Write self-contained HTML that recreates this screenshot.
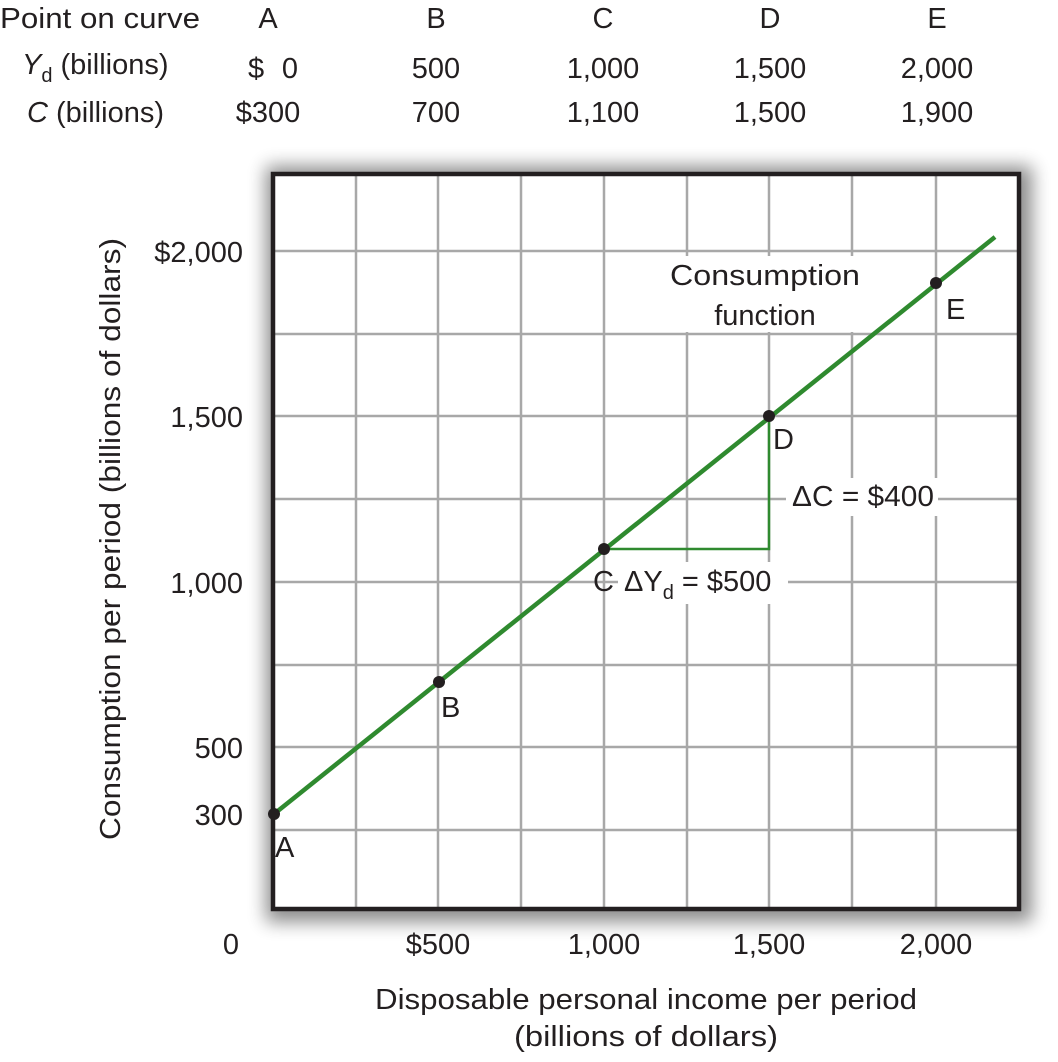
<!DOCTYPE html>
<html><head><meta charset="utf-8"><style>
html,body{margin:0;padding:0;background:#fff;}
svg text{font-family:"Liberation Sans",sans-serif;fill:#231f20;}
</style></head><body>
<svg width="1058" height="1057" viewBox="0 0 1058 1057" xmlns="http://www.w3.org/2000/svg">
<defs>
<filter id="sh" x="-10%" y="-10%" width="125%" height="125%"><feGaussianBlur stdDeviation="9"/></filter>
</defs>
<g font-size="29">
<text x="0" y="28" textLength="200" lengthAdjust="spacingAndGlyphs">Point on curve</text>
<text x="268" y="28" text-anchor="middle">A</text>
<text x="436" y="28" text-anchor="middle">B</text>
<text x="603" y="28" text-anchor="middle">C</text>
<text x="770" y="28" text-anchor="middle">D</text>
<text x="937" y="28" text-anchor="middle">E</text>
<text x="22" y="74"><tspan font-style="italic">Y</tspan><tspan font-size="20" dy="8">d</tspan><tspan dy="-8"> (billions)</tspan></text>
<text x="248" y="78">$</text><text x="298" y="78" text-anchor="end">0</text>
<text x="436" y="78" text-anchor="middle">500</text>
<text x="603" y="78" text-anchor="middle">1,000</text>
<text x="770" y="78" text-anchor="middle">1,500</text>
<text x="937" y="78" text-anchor="middle">2,000</text>
<text x="27" y="122"><tspan font-style="italic">C</tspan> (billions)</text>
<text x="268" y="122" text-anchor="middle">$300</text>
<text x="436" y="122" text-anchor="middle">700</text>
<text x="603" y="122" text-anchor="middle">1,100</text>
<text x="770" y="122" text-anchor="middle">1,500</text>
<text x="937" y="122" text-anchor="middle">1,900</text>
</g>
<rect x="266" y="166" width="766" height="756" fill="#000" opacity="0.45" filter="url(#sh)"/>
<rect x="273" y="174" width="746" height="735" fill="#fff"/>
<g stroke="#a8a8a8" stroke-width="2.5">
<line x1="356" y1="174" x2="356" y2="909"/><line x1="438" y1="174" x2="438" y2="909"/>
<line x1="521" y1="174" x2="521" y2="909"/><line x1="604" y1="174" x2="604" y2="909"/>
<line x1="687" y1="174" x2="687" y2="909"/><line x1="769" y1="174" x2="769" y2="909"/>
<line x1="852" y1="174" x2="852" y2="909"/><line x1="936" y1="174" x2="936" y2="909"/>
<line x1="273" y1="251" x2="1019" y2="251"/><line x1="273" y1="334" x2="1019" y2="334"/>
<line x1="273" y1="416" x2="1019" y2="416"/><line x1="273" y1="499" x2="1019" y2="499"/>
<line x1="273" y1="582" x2="1019" y2="582"/><line x1="273" y1="665" x2="1019" y2="665"/>
<line x1="273" y1="747" x2="1019" y2="747"/><line x1="273" y1="830" x2="1019" y2="830"/>
</g>
<rect x="273" y="174" width="746" height="735" fill="none" stroke="#231f20" stroke-width="4.5"/>
<polyline points="604,549 769,549 769,416" fill="none" stroke="#2f8a2f" stroke-width="2.5"/>
<line x1="274" y1="814" x2="995" y2="237" stroke="#2f8a2f" stroke-width="4.5"/>
<g fill="#231f20">
<circle cx="274" cy="814" r="6"/><circle cx="439" cy="682" r="6"/><circle cx="604" cy="549" r="6"/>
<circle cx="769" cy="416" r="6"/><circle cx="936" cy="283" r="6"/>
</g>
<rect x="662" y="256" width="204" height="76" fill="#fff"/>
<rect x="786" y="478" width="152" height="38" fill="#fff"/>
<rect x="618" y="562" width="170" height="42" fill="#fff"/>
<g font-size="29">
<text x="765" y="285" text-anchor="middle" textLength="190" lengthAdjust="spacingAndGlyphs">Consumption</text>
<text x="765" y="325" text-anchor="middle">function</text>
<text x="792" y="506" textLength="142" lengthAdjust="spacingAndGlyphs">ΔC = $400</text>
<text x="593" y="591">C</text>
<text x="624" y="591">ΔY<tspan font-size="20" dy="8">d</tspan><tspan dy="-8"> = $500</tspan></text>
<text x="275" y="857">A</text>
<text x="441" y="717">B</text>
<text x="773" y="449">D</text>
<text x="946" y="319">E</text>
<g text-anchor="end">
<text x="243" y="262">$2,000</text>
<text x="243" y="427">1,500</text>
<text x="243" y="593">1,000</text>
<text x="243" y="758">500</text>
<text x="243" y="825">300</text>
</g>
<g text-anchor="middle">
<text x="231" y="954">0</text>
<text x="438" y="954">$500</text>
<text x="604" y="954">1,000</text>
<text x="769" y="954">1,500</text>
<text x="936" y="954">2,000</text>
<text x="646" y="1009" textLength="542" lengthAdjust="spacingAndGlyphs">Disposable personal income per period</text>
<text x="646" y="1046" textLength="264" lengthAdjust="spacingAndGlyphs">(billions of dollars)</text>
<text transform="translate(120,539) rotate(-90)" textLength="602" lengthAdjust="spacingAndGlyphs">Consumption per period (billions of dollars)</text>
</g>
</g>
</svg>
</body></html>
